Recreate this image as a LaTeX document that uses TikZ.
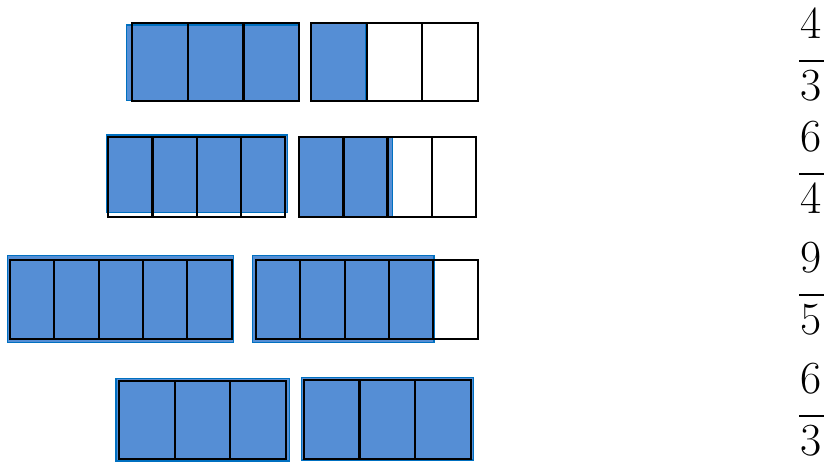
\documentclass[tikz,border=0pt]{standalone}
\usepackage{tikz}
\definecolor{BarBlue}{RGB}{85,142,213}
\definecolor{EdgeBlue}{RGB}{0,112,192}

\begin{document}
\begin{tikzpicture}[x=1pt,y=-1pt,
        shade/.style={fill=BarBlue,draw=EdgeBlue,line width=1.3pt},
        cell/.style={draw=black,line width=2.2pt,line join=miter},
        frac/.style={anchor=base,inner sep=0pt,font=\fontsize{46}{50}\selectfont},
        fracbar/.style={draw=black,line width=2.4pt}
      ]
        \useasboundingbox (0,0) rectangle (824,463);
        % blue shading first, then the black cells on top
        \foreach \xa/\xb/\ya/\yb/\n/\ba/\bb/\bc/\bd in {
            132.3/299/23.3/100.7/3/126.7/299.3/25/100.7,
            311.3/477.7/23.3/100.7/3/311.3/366/23.3/100.7,
            108.3/285/136.7/216.7/4/106.7/287.3/135/212.7,
            299.3/475.7/136.7/216.7/4/299.3/392.7/136.7/216.7,
            10/231.7/260/339.3/5/7.3/233.3/255.7/342.3,
            256/477.7/260/339.3/5/252.7/434/255.7/342.3,
            119/286/381/459/3/116/289.3/378.3/461,
            304/470.7/380/459/3/301.7/473.3/377.3/460}{
          \fill[shade] (\ba,\bc) rectangle (\bb,\bd);
          \draw[cell] (\xa,\ya) rectangle (\xb,\yb);
          \pgfmathtruncatemacro\m{\n-1}
          \foreach \k in {1,...,\m}
            \draw[cell] ({\xa+\k*(\xb-\xa)/\n},\ya) -- ({\xa+\k*(\xb-\xa)/\n},\yb);
        }
        % fractions on the right
        \foreach \yl/\nm/\dn [count=\r] in {61/4/3,174/6/4,295/9/5,416/6/3}{
          \node[frac] (num\r) at (811,\yl-22.7) {\nm};
          \node[frac] (den\r) at (811,\yl+39) {\dn};
          \draw[fracbar] (799,\yl) -- (823.5,\yl);
        }
      \end{tikzpicture}
\end{document}
